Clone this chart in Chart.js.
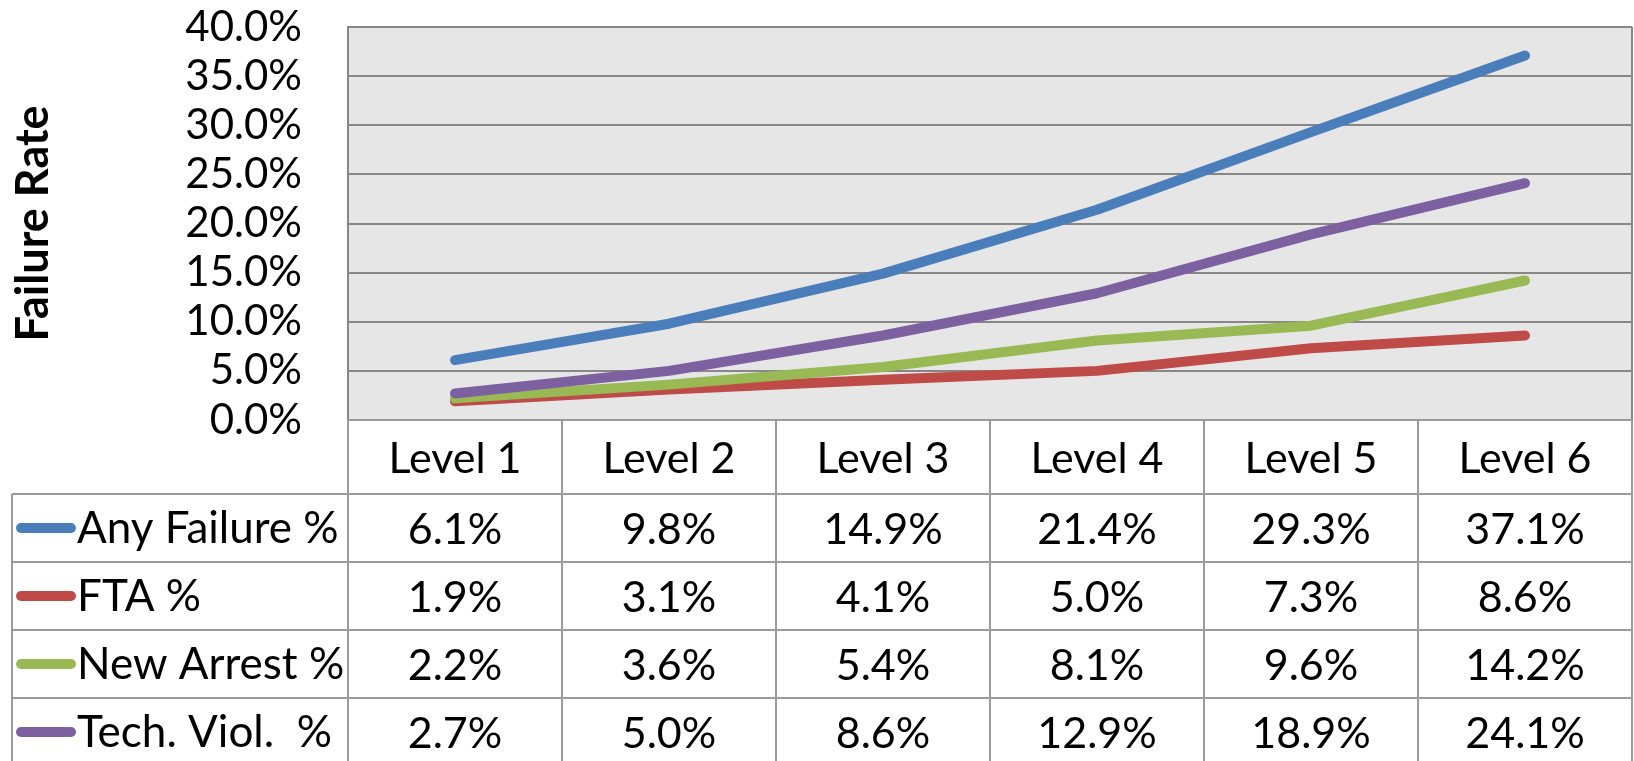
<!DOCTYPE html>
<html>
<head>
<meta charset="utf-8">
<title>Failure Rate by Level</title>
<script src="https://cdn.jsdelivr.net/npm/chart.js@4.4.1/dist/chart.umd.min.js"></script>
<style>
  html, body { margin: 0; padding: 0; background: #fff; }
  canvas { display: block; }
</style>
</head>
<body>
<canvas id="failureChart" width="1634" height="761"></canvas>
<script>
// Data
const levels = ["Level 1", "Level 2", "Level 3", "Level 4", "Level 5", "Level 6"]
const anyFailure = [6.1, 9.8, 14.9, 21.4, 29.3, 37.1]
const fta = [1.9, 3.1, 4.1, 5.0, 7.3, 8.6]
const newArrest = [2.2, 3.6, 5.4, 8.1, 9.6, 14.2]
const techViol = [2.7, 5.0, 8.6, 12.9, 18.9, 24.1]
const seriesNames = ["Any Failure %", "FTA %", "New Arrest %", "Tech. Viol.  %"]
const seriesColors = ["#4A7EBB", "#BE4B48", "#98B954", "#7D60A0"]
const yMax = 40
const yStep = 5

const FONT = "Lato, 'Open Sans', sans-serif"
const GRID = "#878787"
const TABLE_LINE = "#9a9a9a"

const pct = (v) => v.toFixed(1) + "%"

// plot background + data table drawn under the plot area
const dataTable = {
  id: "dataTable",
  beforeDraw(chart) {
    const { ctx, chartArea: a } = chart
    ctx.save()
    ctx.fillStyle = "#E6E6E6"
    ctx.fillRect(a.left, a.top, a.right - a.left, a.bottom - a.top)
    ctx.restore()
  },
  afterDraw(chart) {
    const { ctx, chartArea: a } = chart
    const xs = chart.scales.x
    const colW = (a.right - a.left) / levels.length
    const headerBottom = a.bottom + 74
    const rowH = 68
    const legendLeft = 12
    const bottom = chart.height + 10
    const series = chart.data.datasets

    ctx.save()
    // plot right border
    ctx.strokeStyle = GRID
    ctx.lineWidth = 2
    ctx.beginPath()
    ctx.moveTo(a.right, a.top)
    ctx.lineTo(a.right, a.bottom)
    ctx.stroke()

    // table grid
    ctx.strokeStyle = TABLE_LINE
    ctx.beginPath()
    ctx.moveTo(a.left, a.bottom)
    ctx.lineTo(a.right, a.bottom)
    for (let r = 0; r < series.length; r++) {
      const y = headerBottom + r * rowH
      ctx.moveTo(legendLeft, y)
      ctx.lineTo(a.right, y)
    }
    for (let c = 0; c <= levels.length; c++) {
      const x = a.left + c * colW
      ctx.moveTo(x, a.bottom)
      ctx.lineTo(x, bottom)
    }
    ctx.moveTo(legendLeft, headerBottom)
    ctx.lineTo(legendLeft, bottom)
    ctx.stroke()

    // header labels
    ctx.fillStyle = "#000"
    ctx.font = "43px " + FONT
    ctx.textAlign = "center"
    ctx.textBaseline = "middle"
    levels.forEach((lab, i) => {
      ctx.fillText(lab, xs.getPixelForValue(i), (a.bottom + headerBottom) / 2 + 2)
    })

    // rows
    series.forEach((ds, r) => {
      const yRow = headerBottom + r * rowH + rowH / 2
      ctx.font = "43px " + FONT
      ds.data.forEach((v, i) => {
        ctx.textAlign = "center"
        ctx.fillText(pct(v), xs.getPixelForValue(i), yRow + 2)
      })
      // legend key
      ctx.strokeStyle = ds.borderColor
      ctx.lineWidth = 10
      ctx.lineCap = "round"
      ctx.beginPath()
      ctx.moveTo(21, yRow)
      ctx.lineTo(71, yRow)
      ctx.stroke()
      ctx.font = "44px " + FONT
      ctx.textAlign = "left"
      ctx.fillText(ds.label, 77, yRow + 1)
    })
    ctx.restore()
  },
}

const seriesValues = [anyFailure, fta, newArrest, techViol]
const drawOrder = [4, 3, 2, 1]

const ctx = document.getElementById("failureChart").getContext("2d")
const failureChart = new Chart(ctx, {
  type: "line",
  data: {
    labels: levels,
    datasets: seriesValues.map((vals, i) => ({
      label: seriesNames[i],
      data: vals,
      borderColor: seriesColors[i],
      backgroundColor: seriesColors[i],
      borderWidth: 10,
      borderCapStyle: "round",
      borderJoinStyle: "round",
      pointRadius: 0,
      tension: 0,
      order: drawOrder[i],
    })),
  },
  options: {
    responsive: false,
    animation: false,
    layout: {
      padding: { left: 0, top: 27, right: 2, bottom: 341 },
    },
    plugins: {
      legend: { display: false },
      tooltip: { enabled: false },
    },
    scales: {
      x: {
        display: false,
        offset: true,
      },
      y: {
        min: 0,
        max: yMax,
        ticks: {
          stepSize: yStep,
          autoSkip: false,
          padding: 46,
          color: "#000",
          font: { family: FONT, size: 42 },
          callback: (v) => pct(v),
        },
        grid: {
          color: GRID,
          lineWidth: 2,
          drawTicks: false,
        },
        border: { color: GRID, width: 2 },
        title: {
          display: true,
          text: "Failure Rate",
          color: "#000",
          font: { family: FONT, size: 45, weight: "bold" },
          padding: { top: 6 },
        },
        afterFit(scale) {
          scale.width = 348
          scale.paddingTop = 0
          scale.paddingBottom = 0
        },
      },
    },
  },
  plugins: [dataTable],
})
</script>
</body>
</html>
